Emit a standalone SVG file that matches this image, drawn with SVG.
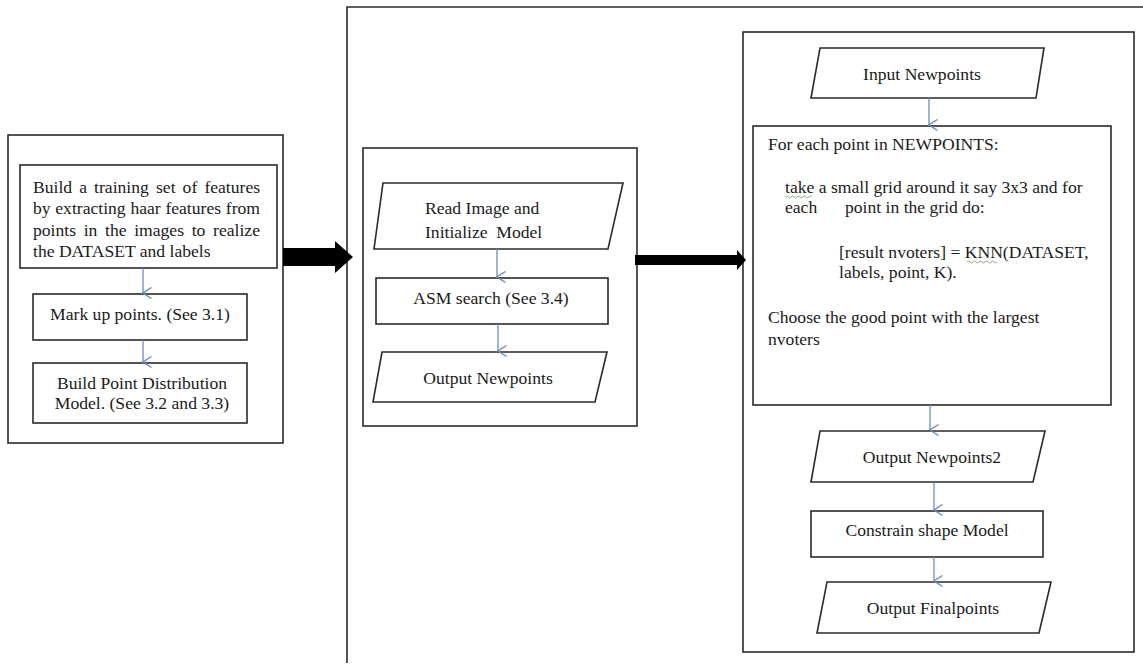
<svg xmlns="http://www.w3.org/2000/svg" width="1143" height="666" viewBox="0 0 1143 666">
<defs>
<marker id="v" viewBox="0 0 12 10" refX="6" refY="9" markerWidth="12" markerHeight="10" markerUnits="userSpaceOnUse" orient="auto-start-reverse">
<path d="M0.5,0.5 L6,9 L11.5,0.5" fill="none" stroke="#6b8fb8" stroke-width="1.3"/>
</marker>
</defs>
<style>
.box{fill:#fff;stroke:#2a2a2a;stroke-width:1.6}
.frame{fill:none;stroke:#2a2a2a;stroke-width:1.6}
.t{font-family:"Liberation Serif","Times New Roman",serif;font-size:17.6px;fill:#1a1a1a}
.c{text-anchor:middle}
.sm{stroke:#6b8fb8;stroke-width:1.3;fill:none}
.big{fill:#000}
</style>
<rect width="1143" height="666" fill="#fff"/>

<g id="left-panel">
<rect class="box" x="8" y="135" width="275" height="308"/>
</g>
<g id="node-build-training">
<rect class="box" x="20" y="165" width="257" height="103"/>
<text class="t" y="193"><tspan x="33">Build</tspan><tspan x="79.2">a</tspan><tspan x="94.1">training</tspan><tspan x="156">set</tspan><tspan x="182.6">of</tspan><tspan x="204.4">features</tspan></text>
<text class="t" y="214"><tspan x="33">by</tspan><tspan x="55.3">extracting</tspan><tspan x="130.4">haar</tspan><tspan x="165.4">features</tspan><tspan x="225.8">from</tspan></text>
<text class="t" y="236"><tspan x="33">points</tspan><tspan x="83.7">in</tspan><tspan x="105">the</tspan><tspan x="134.2">images</tspan><tspan x="191.7">to</tspan><tspan x="213.1">realize</tspan></text>
<text class="t" x="33" y="257">the DATASET and labels</text>
</g>
<g id="node-markup">
<rect class="box" x="33" y="294" width="214" height="46"/>
<text class="t c" x="140" y="320">Mark up points. (See 3.1)</text>
</g>
<g id="node-pdm">
<rect class="box" x="33" y="363" width="214" height="60"/>
<text class="t c" x="142" y="389">Build Point Distribution</text>
<text class="t c" x="142" y="409">Model. (See 3.2 and 3.3)</text>
</g>

<g id="outer-frame">
<path class="frame" d="M1143,7 H347 V663"/>
</g>

<g id="middle-panel">
<rect class="box" x="363" y="148" width="274" height="278"/>
</g>
<g id="node-read-image">
<polygon class="box" points="383,183 623,183 608,249 374,249"/>
<text class="t" x="425" y="214">Read Image and</text>
<text class="t" x="425" y="238" xml:space="preserve">Initialize  Model</text>
</g>
<g id="node-asm">
<rect class="box" x="376" y="278" width="232" height="46"/>
<text class="t c" x="491" y="304">ASM search (See 3.4)</text>
</g>
<g id="node-output-newpoints">
<polygon class="box" points="382,352 607,352 595,402 373,402"/>
<text class="t c" x="488" y="384">Output Newpoints</text>
</g>

<g id="right-panel">
<rect class="box" x="743" y="32" width="391" height="620"/>
</g>
<g id="node-input-newpoints">
<polygon class="box" points="820,48 1044,48 1036,98 811,98"/>
<text class="t c" x="922" y="80">Input Newpoints</text>
</g>
<g id="node-foreach">
<rect class="box" x="753" y="126" width="358" height="279"/>
<text class="t" x="768" y="150">For each point in NEWPOINTS:</text>
<text class="t" x="785" y="193">take a small grid around it say 3x3 and for</text>
<text class="t" x="785" y="213">each</text>
<text class="t" x="845" y="213">point in the grid do:</text>
<text class="t" x="839" y="258">[result nvoters] = KNN(DATASET,</text>
<text class="t" x="839" y="278">labels, point, K).</text>
<text class="t" x="768" y="323">Choose the good point with the largest</text>
<text class="t" x="768" y="345">nvoters</text>
<path d="M785,197 q1.5,-2 3,0 t3,0 t3,0 t3,0 t3,0 t3,0 t3,0 t3,0 t3,0" fill="none" stroke="#7aa86a" stroke-width="0.9"/>
<path d="M967,262 q1.5,-2 3,0 t3,0 t3,0 t3,0 t3,0 t3,0 t3,0 t3,0 t3,0 t3,0" fill="none" stroke="#7aa86a" stroke-width="0.9"/>
</g>
<g id="node-output-newpoints2">
<polygon class="box" points="820,431 1045,431 1033,482 811,482"/>
<text class="t c" x="932" y="463">Output Newpoints2</text>
</g>
<g id="node-constrain">
<rect class="box" x="811" y="511" width="232" height="46"/>
<text class="t c" x="927" y="536">Constrain shape Model</text>
</g>
<g id="node-output-finalpoints">
<polygon class="box" points="827,582 1051,582 1039,633 817,633"/>
<text class="t c" x="933" y="614">Output Finalpoints</text>
</g>

<g id="connectors">
<line class="sm" x1="143" y1="268" x2="143" y2="293" marker-end="url(#v)"/>
<line class="sm" x1="143" y1="340" x2="143" y2="362" marker-end="url(#v)"/>
<line class="sm" x1="497" y1="249" x2="497" y2="277" marker-end="url(#v)"/>
<line class="sm" x1="498" y1="324" x2="498" y2="351" marker-end="url(#v)"/>
<line class="sm" x1="929" y1="98" x2="929" y2="125" marker-end="url(#v)"/>
<line class="sm" x1="930" y1="405" x2="930" y2="430" marker-end="url(#v)"/>
<line class="sm" x1="934" y1="482" x2="934" y2="510" marker-end="url(#v)"/>
<line class="sm" x1="934" y1="557" x2="934" y2="581" marker-end="url(#v)"/>
<polygon class="big" points="283,248 335,248 335,241 353,257 335,273 335,266 283,266"/>
<polygon class="big" points="635,255 737,255 737,250 746,260 737,270 737,265 635,265"/>
</g>
</svg>
